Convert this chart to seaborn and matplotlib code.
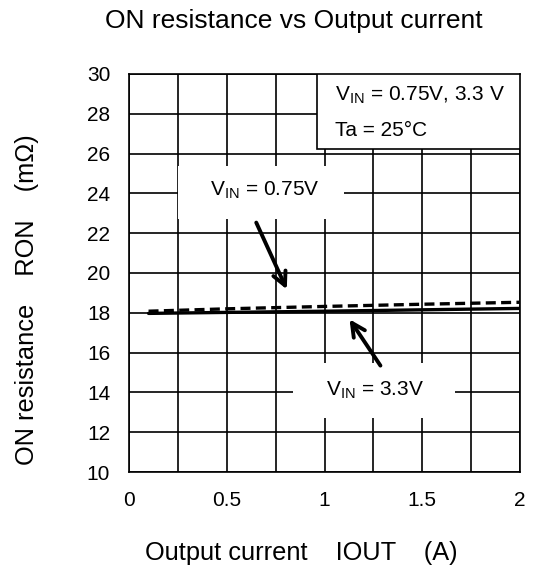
import matplotlib
matplotlib.use("Agg")
import matplotlib.pyplot as plt
from matplotlib.patches import Rectangle
import seaborn as sns
import pandas as pd

# data
current_a = [0.1, 0.5, 1.0, 1.5, 2.0]
ron_075v = [18.08, 18.20, 18.32, 18.43, 18.53]
ron_33v = [17.97, 18.02, 18.08, 18.15, 18.22]
x_ticks = [0, 0.5, 1, 1.5, 2]
y_ticks = [10, 12, 14, 16, 18, 20, 22, 24, 26, 28, 30]

df = pd.concat([
    pd.DataFrame({"Iout": current_a, "Ron": ron_075v, "vin": "0.75V"}),
    pd.DataFrame({"Iout": current_a, "Ron": ron_33v, "vin": "3.3V"}),
])

sns.set_style("white")
plt.rcParams["font.family"] = ["Liberation Sans", "DejaVu Sans"]
plt.rcParams["text.color"] = "black"
plt.rcParams["xtick.color"] = "black"
plt.rcParams["ytick.color"] = "black"

fig = plt.figure(figsize=(5.35, 5.72), dpi=100)
ax = fig.add_axes([129 / 535, 1 - 472 / 572, 391 / 535, 398 / 572])

sns.lineplot(data=df, x="Iout", y="Ron", style="vin", color="black",
             dashes={"0.75V": (3, 1.6), "3.3V": ""}, linewidth=2.4,
             legend=False, ax=ax, zorder=4)

ax.set_xlim(0, 2)
ax.set_ylim(10, 30)
ax.set_xticks(x_ticks)
ax.set_xticklabels(["0", "0.5", "1", "1.5", "2"])
ax.set_yticks(y_ticks)
ax.set_xticks([0.25, 0.75, 1.25, 1.75], minor=True)
ax.tick_params(axis="both", which="both", length=0, labelsize=15, colors="black", pad=13.5)
ax.grid(True, which="both", color="black", linewidth=1.2, zorder=1)
ax.set_axisbelow(True)
for sp in ax.spines.values():
    sp.set_color("black")
    sp.set_linewidth(1.2)
ax.set_xlabel("")
ax.set_ylabel("")

# white boxes behind the curve labels
ax.add_patch(Rectangle((0.25, 22.7), 0.85, 2.7, facecolor="white", edgecolor="none", zorder=2))
ax.add_patch(Rectangle((0.84, 12.7), 0.83, 2.8, facecolor="white", edgecolor="none", zorder=2))
ax.text(0.696, 24.15, r"V$_{\mathregular{IN}}$ = 0.75V", fontsize=15, ha="center", va="center", zorder=3)
ax.text(1.256, 14.1, r"V$_{\mathregular{IN}}$ = 3.3V", fontsize=15, ha="center", va="center", zorder=3)

ax.annotate("", xy=(0.813, 19.05), xytext=(0.645, 22.66),
            arrowprops=dict(arrowstyle="->", color="black", lw=2.8, mutation_scale=24), zorder=5)
ax.annotate("", xy=(1.12, 17.79), xytext=(1.294, 15.23),
            arrowprops=dict(arrowstyle="->", color="black", lw=2.8, mutation_scale=24), zorder=5)

# conditions box
ax.add_patch(Rectangle((0.962, 26.23), 1.038, 3.77, facecolor="white", edgecolor="black",
                       linewidth=1.2, zorder=3))
ax.text(1.054, 28.95, r"V$_{\mathregular{IN}}$ = 0.75V, 3.3 V", fontsize=15, va="center", zorder=4)
ax.text(1.054, 27.15, "Ta = 25°C", fontsize=15, va="center", zorder=4)

fig.text(294 / 535, 1 - 28 / 572, "ON resistance vs Output current", fontsize=19,
         ha="center", va="baseline")
fig.text(301 / 535, 1 - 560 / 572, "Output current    IOUT    (A)", fontsize=18.3,
         ha="center", va="baseline")
fig.text(27 / 535, 1 - 300 / 572, "ON resistance    RON    (mΩ)", fontsize=18.3,
         ha="center", va="center", rotation=90)

fig.savefig("out.png", dpi=100, facecolor="white")
